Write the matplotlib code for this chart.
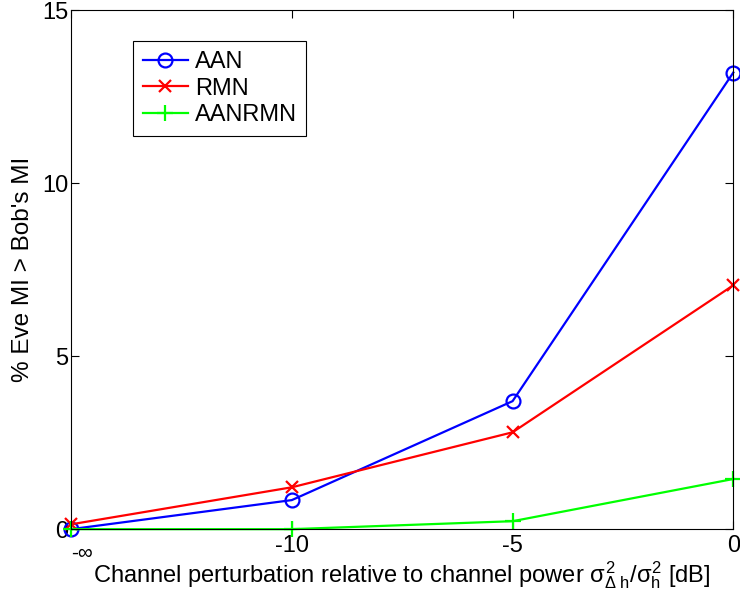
import matplotlib
matplotlib.use('Agg')
import matplotlib.pyplot as plt

# perturbation levels (dB), plotted at equal spacing
levels = ['-\u221e', '-10', '-5', '0']
aan = [0.0, 0.84, 3.70, 13.20]
rmn = [0.14, 1.21, 2.80, 7.05]
aanrmn = [0.0, 0.0, 0.23, 1.45]

plt.rcParams['font.family'] = ['Liberation Sans', 'DejaVu Sans']
plt.rcParams['mathtext.fontset'] = 'custom'
plt.rcParams['mathtext.rm'] = 'Liberation Sans'
plt.rcParams['mathtext.it'] = 'Liberation Sans'
plt.rcParams['font.size'] = 17

fig = plt.figure(figsize=(7.4, 6.02), dpi=100)
ax = fig.add_axes([0.096, 0.121, 0.895, 0.862])

x = list(range(len(levels)))
ax.plot(x, aan, color=(0, 0, 1), lw=1.6, marker='o', ms=10, mfc='none', mew=1.6, label='AAN', clip_on=False)
ax.plot(x, rmn, color=(1, 0, 0), lw=1.6, marker='x', ms=8, mew=1.6, label='RMN', clip_on=False)
ax.plot(x, aanrmn, color=(0, 1, 0), lw=1.6, marker='+', ms=11, mew=1.6, label='AANRMN', clip_on=False)

ax.set_xlim(0, 3)
ax.set_ylim(0, 15)
ax.set_xticks(x)
# first label (-inf) is drawn separately: smaller, left-aligned, lower
ax.set_xticklabels([''] + levels[1:])
ax.annotate(levels[0], xy=(x[0], 0), xycoords=('data', 'axes fraction'),
            xytext=(0, -17.5), textcoords='offset points', ha='left', va='center', fontsize=15)
ax.set_yticks([0, 5, 10, 15])
ax.tick_params(direction='in', top=True, right=True, length=6, width=0.8, labelsize=17, pad=4)
ax.tick_params(axis='y', pad=2)

ax.set_xlabel(r'Channel perturbation relative to channel power $\sigma^2_{\Delta\ h}/\sigma^2_h$ [dB]',
              fontsize=17, labelpad=2)
ax.set_ylabel("% Eve MI > Bob's MI", fontsize=17.5, labelpad=6)

leg = ax.legend(loc='upper left', bbox_to_anchor=(0.094, 0.94), fancybox=False, edgecolor='black',
                framealpha=1, handlelength=1.9, handletextpad=0.3, borderpad=0.4,
                labelspacing=0.2, borderaxespad=0, fontsize=17)
leg.get_frame().set_linewidth(0.8)

fig.savefig('out.png', dpi=100)
